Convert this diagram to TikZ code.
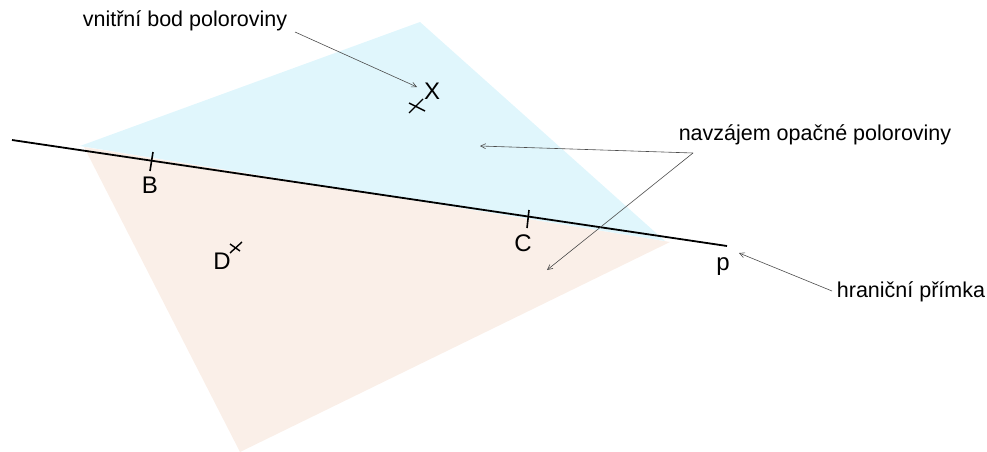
\documentclass[tikz,border=0pt]{standalone}
\usepackage{fontspec}
\setmainfont{Liberation Sans}
\usetikzlibrary{arrows.meta}
\definecolor{halfblue}{HTML}{E0F6FC}
\definecolor{halforange}{HTML}{FAEFE8}
\begin{document}
\begin{tikzpicture}[x=1pt,y=-1pt,
  lbl/.style={inner sep=0pt,font=\fontsize{21.5}{24}\selectfont},
  pt/.style={inner sep=0pt,font=\fontsize{24}{27}\selectfont},
  callout/.style={draw=black!70,line width=0.6pt,-{Straight Barb[length=5pt,width=5pt]}},
  tick/.style={line width=1.6pt}]
\useasboundingbox (0,0) rectangle (987,452);
% half-planes
\fill[halforange] (84,147) -- (240,452) -- (670,242) -- cycle;
\fill[halfblue] (420,22) -- (80,146) -- (665,241) -- cycle;
% boundary line
\coordinate (p1) at (12,140);
\coordinate (p2) at (727,246);
\draw[line width=1.8pt] (p1) -- (p2);
% ticks
\draw[tick] (153,152) -- (150,171);
\draw[tick] (529,210) -- (527,228);
% crosses
\draw[line width=1.4pt] (409,113) -- (423,99);
\draw[line width=1.4pt] (409,103) -- (425,111);
\draw[line width=1.4pt] (230,253) -- (242,242);
\draw[line width=1.4pt] (230,244) -- (240,251);
% point labels
\node[pt] (B) at (150,185) {B};
\node[pt] (C) at (523,243) {C};
\node[pt] (D) at (222,261) {D};
\node[pt] (X) at (432,91) {X};
\node[pt] (p) at (723,267) {p};
% text labels
\node[lbl] (t1) at (185,21) {vnitřní bod poloroviny};
\node[lbl] (t2) at (815,135) {navzájem opačné poloroviny};
\node[lbl] (t3) at (911,292) {hraniční přímka};
% callouts
\coordinate (a1s) at (295,32);
\coordinate (a1e) at (417,87);
\draw[callout] (a1s) -- (a1e);
\coordinate (j) at (693,153);
\coordinate (a2e) at (480,146);
\coordinate (a3e) at (547,270);
\draw[callout] (j) -- (a2e);
\draw[callout] (j) -- (a3e);
\coordinate (a4s) at (832,291);
\coordinate (a4e) at (739,253);
\draw[callout] (a4s) -- (a4e);
\end{tikzpicture}
\end{document}
